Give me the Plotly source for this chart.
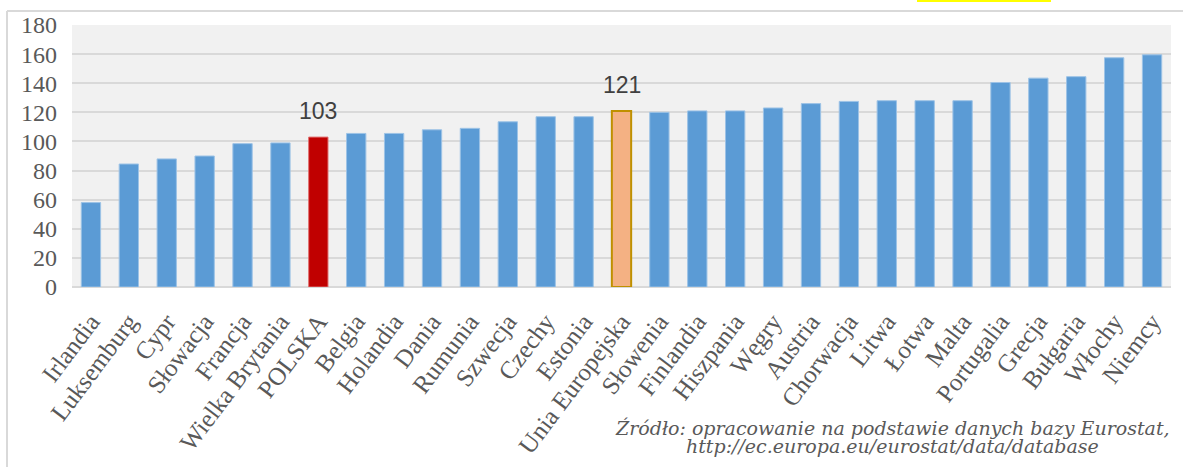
import plotly.graph_objects as go

# Kraje UE uszeregowane rosnąco
kraje = [
    "Irlandia", "Luksemburg", "Cypr", "Słowacja", "Francja", "Wielka Brytania",
    "POLSKA", "Belgia", "Holandia", "Dania", "Rumunia", "Szwecja", "Czechy",
    "Estonia", "Unia Europejska", "Słowenia", "Finlandia", "Hiszpania", "Węgry",
    "Austria", "Chorwacja", "Litwa", "Łotwa", "Malta", "Portugalia", "Grecja",
    "Bułgaria", "Włochy", "Niemcy",
]
wartosci = [
    58, 84.5, 88, 90, 98.5, 99, 103, 105.5, 105.5, 108, 109, 113.5, 117,
    117, 121, 120, 121, 121, 123, 126, 127.5, 128, 128, 128, 140.5, 143.5,
    144.5, 157.5, 159.5,
]
wyroznione = ["POLSKA", "Unia Europejska"]
y_ticks = [0, 20, 40, 60, 80, 100, 120, 140, 160, 180]
zrodlo = [
    "Źródło: opracowanie na podstawie danych bazy Eurostat,",
    "http://ec.europa.eu/eurostat/data/database",
]

W, H = 1183, 467
M_L, M_R, M_T, M_B = 72, 12, 25, 180
PLOT_W = W - M_L - M_R
PLOT_H = H - M_T - M_B


def px_x(px):
    return (px - M_L) / PLOT_W


def px_y(py):
    return (H - M_B - py) / PLOT_H


fill, edge, edge_w = [], [], []
for k in kraje:
    if k == "POLSKA":
        fill.append("#c00000"); edge.append("#e07070"); edge_w.append(1)
    elif k == "Unia Europejska":
        fill.append("#f4b183"); edge.append("#bf9000"); edge_w.append(2)
    else:
        fill.append("#5b9bd5"); edge.append("#9dc3e6"); edge_w.append(1)

fig = go.Figure(
    go.Bar(
        x=kraje,
        y=wartosci,
        marker=dict(color=fill, line=dict(color=edge, width=edge_w)),
        hoverinfo="x+y",
    )
)

# Etykiety wartości nad wyróżnionymi słupkami
for k in wyroznione:
    v = wartosci[kraje.index(k)]
    fig.add_annotation(
        x=k, y=v, text=f"{v:g}", showarrow=False, yanchor="bottom", yshift=11,
        font=dict(family="Liberation Sans", size=23, color="#404040"),
    )

# Źródło danych
for i, line in enumerate(zrodlo):
    fig.add_annotation(
        xref="paper", yref="paper", x=px_x(892), y=px_y(428 + i * 18),
        text=line, showarrow=False, xanchor="center", yanchor="middle",
        font=dict(family="DejaVu Serif", size=19, color="#595959", style="italic"),
    )

# Ramka obszaru wykresu (górna i lewa krawędź)
fig.add_shape(type="line", xref="paper", yref="paper",
              x0=px_x(7), x1=px_x(W + 5), y0=px_y(11), y1=px_y(11),
              line=dict(color="#d9d9d9", width=2))
fig.add_shape(type="line", xref="paper", yref="paper",
              x0=px_x(7), x1=px_x(7), y0=px_y(11), y1=px_y(H + 5),
              line=dict(color="#d9d9d9", width=2))
# Fragment wyróżnienia z tekstu powyżej
fig.add_shape(type="rect", xref="paper", yref="paper",
              x0=px_x(917), x1=px_x(1051), y0=px_y(0), y1=px_y(2),
              line=dict(width=0), fillcolor="#ffff00")

fig.update_layout(
    width=W, height=H,
    margin=dict(l=M_L, r=M_R, t=M_T, b=M_B, autoexpand=False),
    paper_bgcolor="white",
    plot_bgcolor="#f1f1f1",
    bargap=0.49,
    showlegend=False,
    xaxis=dict(
        tickangle=-53, automargin=False,
        tickfont=dict(family="Liberation Serif", size=25, color="#595959"),
        showgrid=False, showline=False, ticks="", fixedrange=True,
        ticklabelstandoff=14,
    ),
    yaxis=dict(
        range=[0, 180], tickvals=y_ticks, automargin=False,
        tickfont=dict(family="Liberation Serif", size=24, color="#595959"),
        showgrid=True, gridcolor="#d9d9d9", gridwidth=2,
        zeroline=True, zerolinecolor="#d9d9d9", zerolinewidth=2,
        ticks="", ticklabelstandoff=14, showline=False,
    ),
)

fig.write_html("out.html")
